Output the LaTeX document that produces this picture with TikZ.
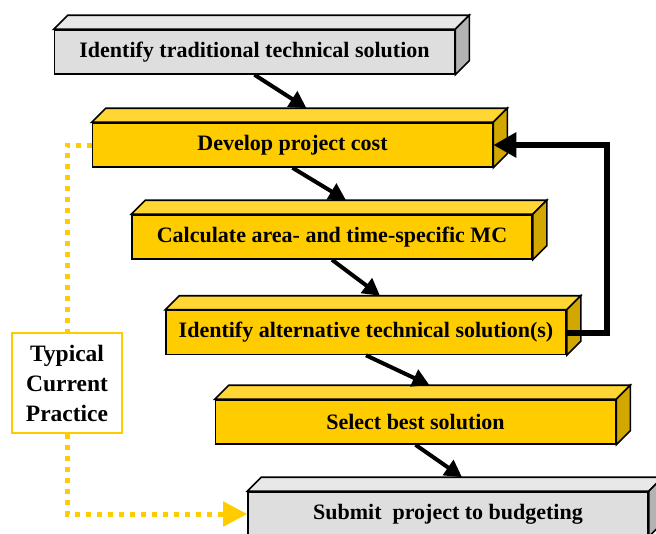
\documentclass[tikz,border=0pt]{standalone}
\usepackage{fontspec}
\setmainfont{Liberation Serif}
\usetikzlibrary{arrows.meta,calc}
\definecolor{gold}{HTML}{FFCC00}
\definecolor{goldtop}{HTML}{FFD633}
\definecolor{goldside}{HTML}{D1A700}
\definecolor{ash}{HTML}{DEDEDE}
\definecolor{ashtop}{HTML}{E8E8E8}
\definecolor{ashside}{HTML}{B3B3B3}
\tikzset{slab/.style={draw=black,line width=1.6pt,fill=#1,minimum width=400pt,minimum height=44pt,inner sep=0pt,font=\bfseries\fontsize{22}{26}\selectfont},flow/.style={-{Triangle[length=17pt,width=18pt]},line width=4pt},loopback/.style={-{Triangle[length=23pt,width=24pt]},line width=6pt},currentline/.style={draw=gold,line width=5pt,dash pattern=on 5pt off 6pt}}
\begin{document}
\begin{tikzpicture}[x=1pt,y=-1pt]
\useasboundingbox (0,0) rectangle (656,533);
\node[slab=ash] (ident) at (254.5,52) {Identify traditional technical solution};
\node[slab=gold] (cost) at (292.5,145) {Develop project cost};
\node[slab=gold] (mc) at (332,237) {Calculate area- and time-specific MC};
\node[slab=gold] (alt) at (366,332.5) {Identify alternative technical solution(s)};
\node[slab=gold] (best) at (415.5,422) {Select best solution};
\node[slab=ash] (submit) at (448,514) {Submit~ project to budgeting};
\node[draw=gold,line width=1.6pt,minimum width=110pt,minimum height=100pt,align=center,font=\bfseries\fontsize{23.5}{30}\selectfont] (practice) at (67,383) {Typical\\Current\\Practice};
% top and side faces
\foreach \n/\t/\s in {ident/ashtop/ashside,cost/goldtop/goldside,mc/goldtop/goldside,alt/goldtop/goldside,best/goldtop/goldside,submit/ashtop/ashside}{
\draw[line width=1.6pt,fill=\t] (\n.north west)--++(14,-14)--($(\n.north east)+(14,-14)$)--(\n.north east)--cycle;
\draw[line width=1.6pt,fill=\s] (\n.north east)--++(14,-14)--($(\n.south east)+(14,-14)$)--(\n.south east)--cycle;}
\draw[flow] (ident.south)--($(cost.north)+(14,-14)$);
\draw[flow] (cost.south)--($(mc.north)+(14,-14)$);
\draw[flow] (mc.south)--($(alt.north)+(14,-14)$);
\draw[flow] (alt.south)--($(best.north)+(14,-14)$);
\draw[flow] (best.south)--($(submit.north)+(14,-14)$);
\draw[loopback] (alt.east)--++(40,0)|-(cost.east);
\draw[currentline] (cost.west)-|(practice.north);
\draw[currentline,-{Triangle[length=24pt,width=24pt,fill=gold]}] (practice.south)|-(submit.west);
\end{tikzpicture}
\end{document}
